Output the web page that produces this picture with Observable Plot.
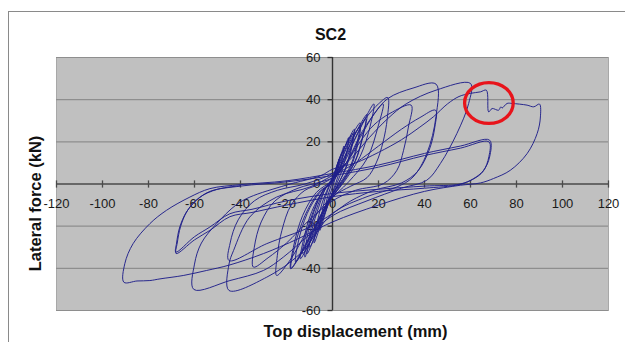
<!DOCTYPE html>
<html>
<head>
<meta charset="utf-8">
<script src="https://cdn.jsdelivr.net/npm/d3@7"></script>
<script src="https://cdn.jsdelivr.net/npm/@observablehq/plot@0.6"></script>
<style>
  html, body { margin: 0; padding: 0; background: #fff; }
  #wrap { position: relative; width: 625px; height: 342px; overflow: hidden; }
  #border { position: absolute; left: 8px; top: 11px; width: 640px; height: 400px;
            border-left: 1.5px solid #8a8a8a; border-top: 1.5px solid #8a8a8a; box-sizing: border-box; }
  #chart { position: absolute; left: 0; top: 0; }
</style>
</head>
<body>
<div id="wrap"><div id="border"></div><div id="chart"></div></div>
<script>
// ---- data: [top displacement (mm), lateral force (kN)] ----
const smallCyclesA = [
  [0,0],[1.5,6],[3,12],[2.6,8],[1,2],[-0.5,-3],[-2,-8],[-3,-12],[-2.6,-8],[-1,-2],[0.5,3],
  [2,9],[4,15],[5,18],[4.3,12],[2.5,4],[0,-4],[-2,-10],[-4,-17],[-5.5,-22],[-4.8,-15],[-3,-6],[-1,0],[1,5],
  [3,12],[5.5,18],[7,22],[6.2,15],[4,6],[1,-2],[-2,-10],[-5,-19],[-8,-28],[-7,-20],[-4.5,-9],[-2,-2],[0,3],
  [3,12],[6,19],[9.5,26],[8.5,18],[6,8],[2,-1],[-2,-9],[-6,-20],[-11,-33],[-10,-24],[-7,-12],[-3.5,-3],[0,2],
  [3,11],[6,19],[9,24],[8,17],[5.5,7],[2,-1],[-2,-10],[-6,-21],[-10,-30],[-9,-22],[-6,-11],[-3,-2],[0,3]
];
const smallCyclesB = [
  [3,10],[7,20],[12,29],[11,21],[8,9],[3,0],[-2,-8],[-7,-21],[-14,-35.5],[-12.5,-26],[-9,-13],[-4,-3],[0,2],
  [3,9],[7,19],[12,27],[11,19],[8,8],[3,-1],[-2,-9],[-7,-22],[-13,-33],[-11.5,-24],[-8,-12],[-4,-3],[0,2],
  [4,10],[9,22],[15,33],[13.5,24],[10,11],[4,1],[-2,-8],[-8,-22],[-18,-40],[-16.5,-30],[-12,-15],[-6,-4],[0,1],
  [4,9],[9,20],[14.5,31],[13,22],[9.5,10],[4,0],[-2,-9],[-8,-21],[-16,-37],[-15,-28],[-11,-14],[-5.5,-4],[0,1],
  [5,10],[11,24],[18,38],[16.5,28],[12,13],[5,1],[-2,-9],[-8,-22],[-12,-34.7],[-11,-25],[-8,-13],[-4,-3],[0,2],
  [6,10],[13,25],[22,38],[20,28],[15,12],[7,1],[-2,-9],[-10,-25],[-18.2,-40.2],[-17,-30],[-13,-15],[-7,-4],[0,2]
];
const cycle24 = [[5,12],[10,24],[15,32],[20,38],[24,41],[23.8,31],[22,20],[19,10],[15,3],[8,-1],[0,-6],[-8,-16],[-14,-28],[-19,-37],[-24.3,-43.4],[-24,-34],[-22,-22],[-18,-10],[-12,-3],[-5,0],[0,3]];
const cycle34 = [[6,10],[12,20],[18,28],[25,33.5],[34.2,37.4],[33,27],[30.9,16],[28,6.5],[22.2,0.2],[10,-3],[0,-8],[-10,-17],[-20,-28],[-28,-35],[-34.4,-39.4],[-34,-30],[-31,-18],[-25,-8],[-15,-2],[-5,1],[0,3]];
const cycle45a = [[6,10],[12,22],[18,33],[24,40.5],[35,45.5],[45,47.4],[45,32],[41,14.4],[35,3.3],[28,-1.4],[15,-6],[0,-14],[-14,-33],[-28.6,-44.2],[-45,-50.5],[-45,-38],[-43,-31.5],[-36,-15.7],[-24.3,-6.2],[-9.8,-1.4],[0,4]];
const cycle45b = [[10,10],[20,18],[30,26],[38,31.5],[44.8,35],[44.5,27],[42,16],[37,6],[30,0.5],[18,-3],[8,-8],[0,-14],[-9.8,-20.4],[-28.6,-28.3],[-45,-36.3],[-44.5,-28],[-41,-17],[-34,-8],[-24,-3],[-12,0],[0,5]];
const cycle60 = [[8,12],[16,22],[24,31],[32,38],[45,44.5],[60,47.7],[59.2,38.2],[54.1,24],[46.9,9.7],[41,1.8],[30,-2],[15,-8],[0,-15],[-10,-24],[-21.4,-34.7],[-30,-41],[-44.6,-45.8],[-60.3,-50],[-60,-38],[-57,-28],[-50.4,-18.8],[-42,-10],[-35.9,-6.2],[-20,-0.5],[-5,4],[0,7]];
const cycle90 = [[10,10],[20,15],[30,21],[38,27],[44,32],[50,38],[55,41.5],[60,43],[64.3,43.7],[66.9,44.5],[67.9,34.2],[69.4,35.8],[72.2,35],[73.2,36.6],[73.7,36],[75.9,38.2],[78.1,38.2],[84.6,37.4],[87.5,36.6],[90,37.9],[90.4,31.8],[89,24],[84.6,14.4],[77.3,6.5],[70,2.6],[64.3,0.5],[55.6,-0.6],[40,-3.5],[20,-10],[0,-18],[-15,-26],[-30,-33],[-45,-38.5],[-54.7,-41],[-64.9,-43.4],[-75,-45],[-79.4,-45.8],[-85,-46],[-90.7,-46.6],[-90.3,-37.8],[-86.7,-28.3],[-79.4,-18.8],[-72.2,-12.5],[-62,-6.2],[-53.3,-2.2],[-40,-0.3],[-20,1.5],[0,5]];
const cycle68a = [[20,9],[40,14.5],[55.6,18],[68.3,20.8],[68.3,12.8],[65.7,6.5],[61.4,2.6],[55.6,0],[40,-1],[20,-2.5],[0,-4.5],[-20,-8],[-35,-12],[-44.6,-14.1],[-53.3,-20.4],[-60,-25],[-68.1,-32.3],[-67.8,-28],[-66.4,-20.4],[-63.5,-13.3],[-59.1,-7.7],[-53.3,-3.5],[-40,-1],[-20,1],[0,4]];
const cycle68b = [[20,8],[40,13.5],[55.6,17],[68,20],[68,13],[65.5,6],[61,2.2],[55,-0.3],[40,-2],[20,-3.5],[0,-6],[-20,-10],[-35,-13.5],[-44.6,-15.5],[-53.3,-22],[-60,-26.5],[-68,-33],[-67.5,-28],[-66,-20],[-63,-12.5],[-58,-6.5],[-50,-2.5],[-40,-0.8]];

const xTicks = [-120,-100,-80,-60,-40,-20,0,20,40,60,80,100,120];
const yTicks = [-60,-40,-20,0,20,40,60];
const yGrid = [-60,-40,-20,20,40,60];
const highlight = [[68,38.4]];   // red circled strength drop
const title = "SC2";
const xLabel = "Top displacement (mm)";
const yLabel = "Lateral force (kN)";

const path = [].concat(smallCyclesA, smallCyclesB, cycle24, cycle34, cycle45a, cycle45b, cycle60, cycle90, cycle68a, cycle68b);

// custom symbols
const vTick = {draw(ctx, size) { const r = Math.sqrt(size / Math.PI); ctx.moveTo(0, -r); ctx.lineTo(0, r); }};
const hTick = {draw(ctx, size) { const r = Math.sqrt(size / Math.PI); ctx.moveTo(-r, 0); ctx.lineTo(0, 0); }};
const ellipse = {draw(ctx, size) {
  const rx = Math.sqrt(size / Math.PI), ry = rx * 0.84, k = 0.5523;
  ctx.moveTo(rx, 0);
  ctx.bezierCurveTo(rx, k * ry, k * rx, ry, 0, ry);
  ctx.bezierCurveTo(-k * rx, ry, -rx, k * ry, -rx, 0);
  ctx.bezierCurveTo(-rx, -k * ry, -k * rx, -ry, 0, -ry);
  ctx.bezierCurveTo(k * rx, -ry, rx, -k * ry, rx, 0);
  ctx.closePath();
}};

const font = "'Liberation Sans', Arial, Helvetica, sans-serif";

const chart = Plot.plot({
  width: 625,
  height: 342,
  marginLeft: 56,
  marginRight: 17,
  marginTop: 57,
  marginBottom: 32,
  style: {background: "transparent", fontFamily: font, overflow: "visible"},
  x: {domain: [-120, 120], axis: null},
  y: {domain: [-60, 60], axis: null},
  marks: [
    Plot.frame({fill: "#c0c0c0", stroke: "#a8a8a8", strokeWidth: 1}),
    Plot.ruleY(yGrid, {stroke: "#8e8e8e", strokeWidth: 1.1}),
    Plot.ruleY([0], {stroke: "#4a4a4a", strokeWidth: 1.4}),
    Plot.ruleX([0], {stroke: "#333", strokeWidth: 1.4}),
    Plot.dot(xTicks, {x: d => d, y: 0, symbol: vTick, r: 3.6, stroke: "#4a4a4a", strokeWidth: 1.3, fill: "none"}),
    Plot.dot(yTicks, {x: 0, y: d => d, symbol: hTick, r: 5, stroke: "#333", strokeWidth: 1.3, fill: "none"}),
    Plot.text(xTicks, {x: d => d, y: 0, dy: 19.5, text: d => String(d), fontSize: 13, fill: "#1a1a1a"}),
    Plot.text(yTicks, {x: 0, y: d => d, dx: -12, textAnchor: "end", text: d => String(d), fontSize: 13, fill: "#1a1a1a"}),
    Plot.line(path, {x: d => d[0], y: d => d[1], curve: "catmull-rom", stroke: "#20208a", strokeWidth: 0.95, strokeLinejoin: "round"}),
    Plot.dot(highlight, {x: d => d[0], y: d => d[1], symbol: ellipse, r: 24.3, stroke: "#e8141b", strokeWidth: 3.3, fill: "none"}),
    Plot.text([title], {frameAnchor: "top", lineAnchor: "middle", textAnchor: "middle", dx: -2, dy: -23, text: d => d, fontSize: 16, fontWeight: "bold", fill: "#111"}),
    Plot.text([xLabel], {frameAnchor: "bottom", lineAnchor: "middle", textAnchor: "middle", dx: 23, dy: 21.5, text: d => d, fontSize: 16.5, fontWeight: "bold", fill: "#111"}),
    Plot.text([yLabel], {frameAnchor: "left", lineAnchor: "middle", textAnchor: "middle", dx: -21, dy: 19.5, rotate: -90, text: d => d, fontSize: 16.5, fontWeight: "bold", fill: "#111"})
  ]
});
document.getElementById("chart").appendChild(chart);
</script>
</body>
</html>
